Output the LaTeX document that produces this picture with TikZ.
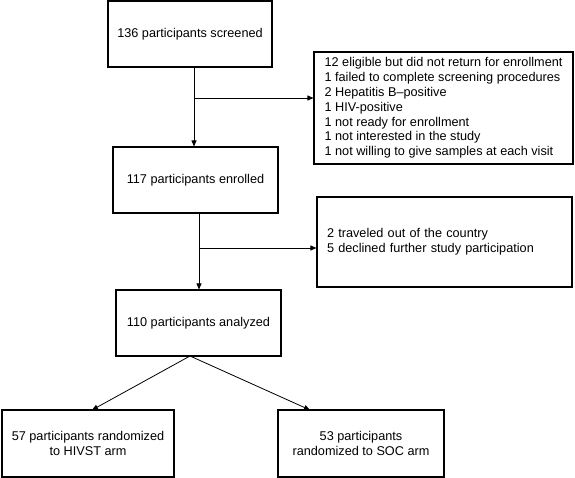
\documentclass[tikz,border=0pt]{standalone}
\usepackage{fontspec}
\setmainfont{Liberation Sans}
\usepackage{tikz}
\usetikzlibrary{arrows.meta,positioning,calc}
\tikzset{
  fx/.style={x=1pt, y=-1pt, font=\fontsize{12.7}{14.8}\selectfont},
  f box/.style={draw, line width=1.1pt, align=center, inner sep=0pt},
  f main/.style={f box, minimum height=66},
  f excl/.style={f box, align=left},
  f arr/.style={line width=0.8pt, -{Triangle[length=6pt, width=5pt]}},
}
\begin{document}
\begin{tikzpicture}[fx]
\useasboundingbox (0,0) rectangle (575,478);
\node[f main, minimum width=164] (scr) at (190,34) {136 participants screened};
\node[f main, minimum width=165] (enr) at (195.5,180) {117 participants enrolled};
\node[f main, minimum width=165] (ana) at (198.5,323) {110 participants analyzed};
\node[f excl, minimum width=259, minimum height=112] (ex1) at (443.5,108) {12 eligible but did not return for enrollment\\1 failed to complete screening procedures\\2 Hepatitis B--positive\\1 HIV-positive\\1 not ready for enrollment\\1 not interested in the study\\1 not willing to give samples at each visit};
\node[f excl, minimum width=255, minimum height=90, text width=235] (ex2) at (444.5,242) {2 traveled out of the country\\5 declined further study participation};
\node[f main, minimum width=172, minimum height=67] (hiv) at (88,443.5) {57 participants randomized\\to HIVST arm};
\node[f main, minimum width=166, minimum height=67] (soc) at (361,443.5) {53 participants\\randomized to SOC arm};
% branch points
\coordinate (j1) at (194,98); \coordinate (j2) at (199,248);
\coordinate (j3) at (190,356); \coordinate (t1) at (92,410); \coordinate (t2) at (310,410);
\draw[f arr] (j1 |- scr.south) -- (j1 |- enr.north); \draw[f arr] (j1) -- (ex1.west |- j1);
\draw[f arr] (j2 |- enr.south) -- (j2 |- ana.north); \draw[f arr] (j2) -- (ex2.west |- j2);
\draw[f arr] (j3) -- (t1); \draw[f arr] (j3) -- (t2);
\end{tikzpicture}
\end{document}
